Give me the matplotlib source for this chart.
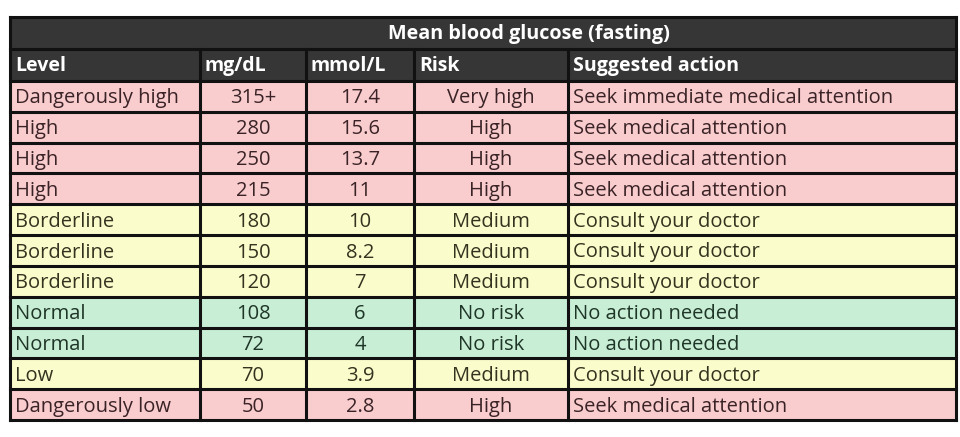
import matplotlib.pyplot as plt
from matplotlib.patches import Rectangle

title = "Mean blood glucose (fasting)"
columns = ["Level", "mg/dL", "mmol/L", "Risk", "Suggested action"]

levels = ["Dangerously high", "High", "High", "High", "Borderline", "Borderline",
          "Borderline", "Normal", "Normal", "Low", "Dangerously low"]
mg_dl = ["315+", "280", "250", "215", "180", "150", "120", "108", "72", "70", "50"]
mmol_l = ["17.4", "15.6", "13.7", "11", "10", "8.2", "7", "6", "4", "3.9", "2.8"]
risk = ["Very high", "High", "High", "High", "Medium", "Medium", "Medium",
        "No risk", "No risk", "Medium", "High"]
action = ["Seek immediate medical attention", "Seek medical attention",
          "Seek medical attention", "Seek medical attention", "Consult your doctor",
          "Consult your doctor", "Consult your doctor", "No action needed",
          "No action needed", "Consult your doctor", "Seek medical attention"]

# fill / text colour per risk level
risk_colors = {"Very high": "#f9ccce", "High": "#f9ccce", "Medium": "#fbfccb",
               "No risk": "#c8eed5"}
text_colors = {"Very high": "#3a2326", "High": "#3a2326", "Medium": "#33331f",
               "No risk": "#1f3527"}

plt.rcParams['font.family'] = ['Open Sans', 'DejaVu Sans']

fig = plt.figure(figsize=(9.6, 4.37), dpi=100)
ax = fig.add_axes([0, 0, 1, 1])
ax.set_xlim(0, 960)
ax.set_ylim(437, 0)
ax.axis('off')

# table layout in pixels
xs = [10, 200, 306, 414, 568, 956]
top, title_bot, head_bot = 17, 49, 81
row_h = (420 - head_bot) / len(levels)
align = ['left', 'center', 'center', 'center', 'left']
line = '#111111'

ax.add_patch(Rectangle((xs[0], top), xs[-1] - xs[0], head_bot - top, fc='#363636', ec='none'))
ax.text(529, (top + title_bot) / 2 + 1, title, color='white',
        fontsize=14.2, fontweight='bold', ha='center', va='center')
for j, c in enumerate(columns):
    ax.text(xs[j] + 5, (title_bot + head_bot) / 2 + 1, c, color='white',
            fontsize=14, fontweight='bold', ha='left', va='center')

for i in range(len(levels)):
    y0 = head_bot + i * row_h
    ax.add_patch(Rectangle((xs[0], y0), xs[-1] - xs[0], row_h,
                           fc=risk_colors[risk[i]], ec='none'))
    vals = [levels[i], mg_dl[i], mmol_l[i], risk[i], action[i]]
    for j, v in enumerate(vals):
        if align[j] == 'left':
            x = xs[j] + 5
        else:
            x = (xs[j] + xs[j + 1]) / 2
        ax.text(x, y0 + row_h / 2 + 2, v, color=text_colors[risk[i]], fontsize=14.5,
                ha=align[j], va='center')

# grid lines
bottom = head_bot + len(levels) * row_h
for y in [top, title_bot, head_bot] + [head_bot + i * row_h for i in range(1, len(levels) + 1)]:
    ax.plot([xs[0], xs[-1]], [y, y], color=line, lw=2.2, solid_capstyle='projecting')
ax.plot([xs[0], xs[0]], [top, bottom], color=line, lw=2.2)
ax.plot([xs[-1], xs[-1]], [top, bottom], color=line, lw=2.2)
for x in xs[1:-1]:
    ax.plot([x, x], [title_bot, bottom], color=line, lw=2.2)

fig.savefig('out.png', dpi=100)
